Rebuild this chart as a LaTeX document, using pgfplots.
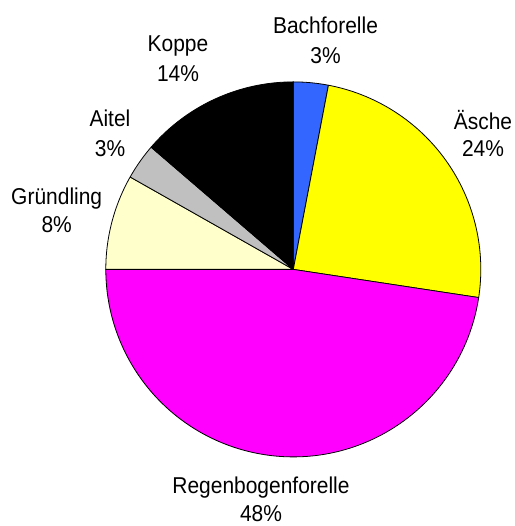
\documentclass[border=0pt]{standalone}
\usepackage{fontspec}
\setmainfont{Liberation Sans}[FakeStretch=0.915]
\usepackage{pgfplots}
\usepackage{pgfplotstable}
\pgfplotsset{compat=1.18}
\definecolor{cBach}{HTML}{3366FF}
\definecolor{cAesche}{HTML}{FFFF00}
\definecolor{cRegen}{HTML}{FF00FF}
\definecolor{cGruend}{HTML}{FFFFCC}
\definecolor{cAitel}{HTML}{C0C0C0}
\definecolor{cKoppe}{HTML}{000000}

% share in percent, clockwise from 12 o'clock; label x and two baselines (pixels from top)
\pgfplotstableread{
name value col lx lya lyb
Bachforelle 3.0 cBach 325.5 33.3 64
Äsche 24.4 cAesche 483 130 157
Regenbogenforelle 47.6 cRegen 261 494 521
Gründling 8.2 cGruend 56.7 205 233
Aitel 3.1 cAitel 110 127 157
Koppe 13.7 cKoppe 178 51.7 81.7
}\piedata

\def\cx{293.3}
\def\cy{256.6}
\def\rad{187.5}

\begin{document}
\begin{tikzpicture}
\begin{axis}[
  scale only axis, width=515bp, height=526bp,
  xmin=0, xmax=515, ymin=0, ymax=526,
  ticks=none, axis line style={draw=none},
  clip=false,
]
\pgfplotstablegetrowsof{\piedata}
\pgfmathtruncatemacro\nrows{\pgfplotsretval-1}
\def\cum{0}
\pgfplotsforeachungrouped \i in {0,...,\nrows}{
  \pgfplotstablegetelem{\i}{value}\of\piedata \let\v\pgfplotsretval
  \pgfplotstablegetelem{\i}{col}\of\piedata \let\c\pgfplotsretval
  \pgfplotstablegetelem{\i}{name}\of\piedata \let\nm\pgfplotsretval
  \pgfplotstablegetelem{\i}{lx}\of\piedata \let\lx\pgfplotsretval
  \pgfplotstablegetelem{\i}{lya}\of\piedata \pgfmathsetmacro\lya{526-\pgfplotsretval}
  \pgfplotstablegetelem{\i}{lyb}\of\piedata \pgfmathsetmacro\lyb{526-\pgfplotsretval}
  \pgfmathsetmacro\aStart{90-3.6*\cum}
  \pgfmathsetmacro\cumNew{\cum+\v}
  \pgfmathsetmacro\aEnd{90-3.6*\cumNew}
  \pgfmathtruncatemacro\pct{round(\v)}
  \edef\doplot{%
    \noexpand\addplot[fill=\c, draw=black, line width=0.8bp, line join=round,
      domain=\aEnd:\aStart, samples=181]
      ({\cx+\rad*cos(x)},{\cy+\rad*sin(x)}) -- (axis cs:\cx,\cy) -- cycle;
    \noexpand\node[anchor=base, inner sep=0pt, font=\noexpand\fontsize{23}{27}\noexpand\selectfont]
      at (axis cs:\lx,\lya) {\nm};
    \noexpand\node[anchor=base, inner sep=0pt, font=\noexpand\fontsize{23}{27}\noexpand\selectfont]
      at (axis cs:\lx,\lyb) {\pct\%};
  }%
  \doplot
  \global\let\cum\cumNew
}
\end{axis}
\end{tikzpicture}
\end{document}
